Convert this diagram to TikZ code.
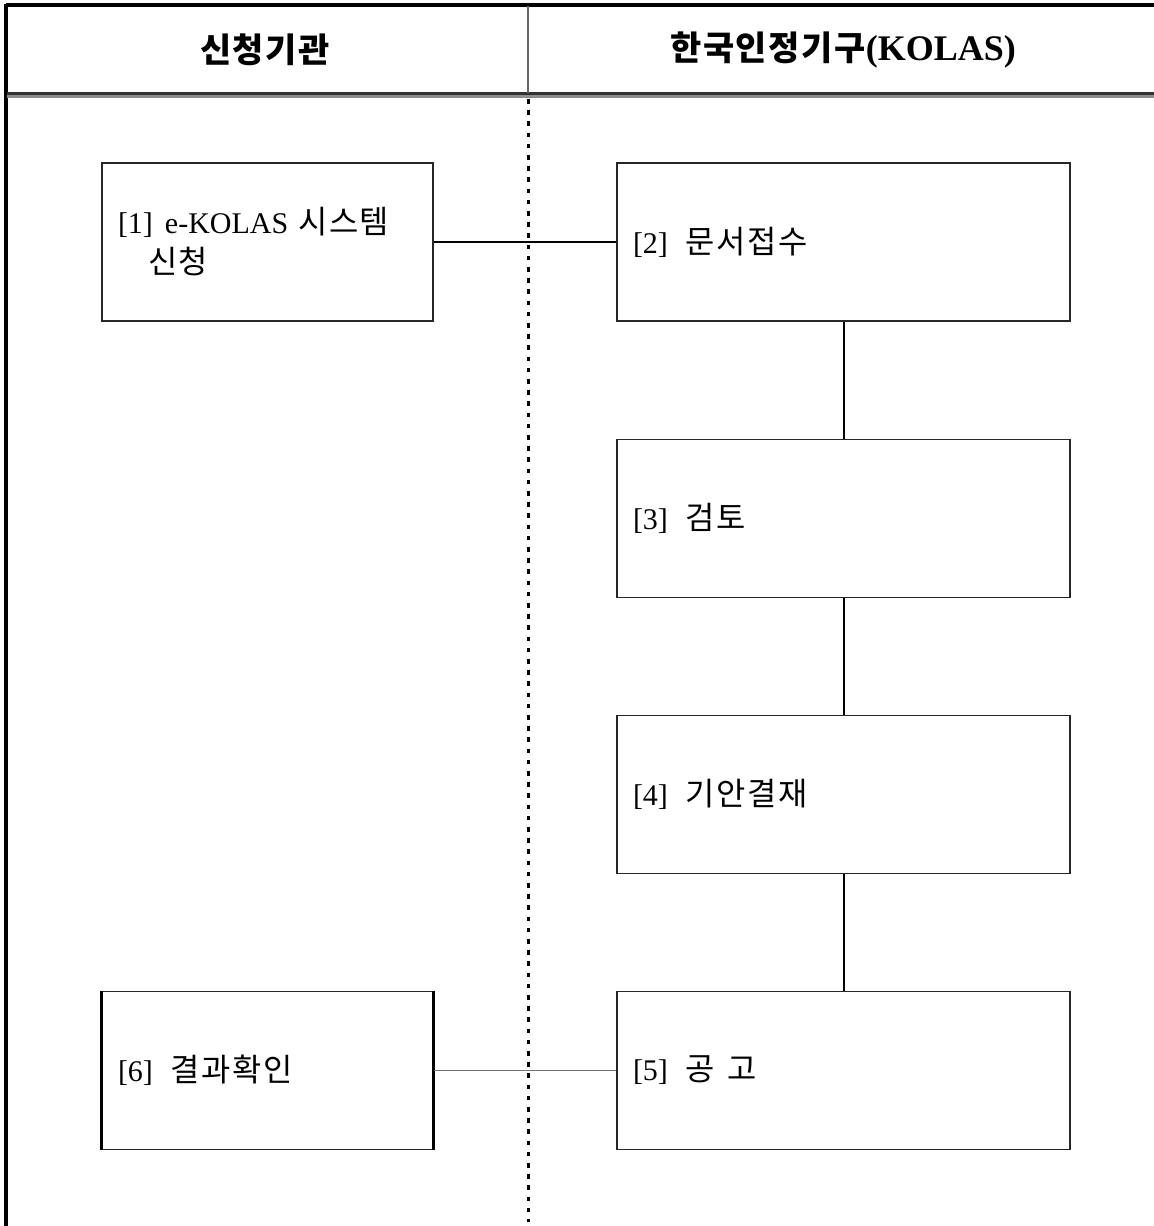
\documentclass[tikz,border=0pt]{standalone}
\usepackage{fontspec}
\usepackage{graphicx}
\setmainfont{Liberation Serif}
\newfontfamily\kr{Noto Sans CJK KR}[Scale=1.06,LetterSpace=5]
\begin{document}
\begin{tikzpicture}[x=0.5pt,y=-0.5pt,
  box/.style={draw=black!85, line width=0.7pt, minimum height=79pt, inner xsep=8pt, inner ysep=0pt, align=left,
    font=\fontsize{15}{20}\selectfont},
  lbox/.style={box, text width=149.5pt},
  rbox/.style={box, text width=210.5pt},
  conn/.style={draw=black, line width=1pt},
  conng/.style={draw=black!55, line width=0.8pt},
  head/.style={inner sep=0pt, font=\bfseries}
]
\useasboundingbox (0,0) rectangle (1154,1226);
% frame
\draw[line width=1.6pt] (6,5) -- (1154,5);
\draw[line width=1.6pt] (6,4) -- (6,1226);
\draw[black!80, line width=1.1pt] (7,93.5) -- (1154,93.5);
\draw[black!45, line width=1.2pt] (7,96.5) -- (1154,96.5);
\draw[black!60, line width=0.6pt] (528,6) -- (528,93);
\draw[line width=1.5pt, dash pattern=on 2.3pt off 3.3pt] (528,99) -- (528,1222);
% headers
\node[head] (h1) at (265,50) {\fontsize{16}{18}\selectfont\kr\bfseries 신청기관};
\node[head] (h2) at (843,50) {\fontsize{16}{18}\selectfont\kr\bfseries 한국인정기구\fontsize{18}{18}\selectfont\rmfamily\bfseries (KOLAS)};
% boxes
\node[lbox] (n1) at (267.5,242) {[1]\hspace{6pt}e-KOLAS\hspace{5pt}{\kr 시스템}\\\hspace*{15pt}{\kr 신청}};
\node[rbox] (n2) at (843.5,242) {[2]\hspace{9pt}{\kr 문서접수}};
\node[rbox] (n3) at (843.5,518.5) {[3]\hspace{9pt}{\kr 검토}};
\node[rbox] (n4) at (843.5,794.5) {[4]\hspace{9pt}{\kr 기안결재}};
\node[rbox] (n5) at (843.5,1070.5) {[5]\hspace{9pt}{\kr 공\hspace{6pt}고}};
\node[lbox] (n6) at (267.5,1070.5) {[6]\hspace{9pt}{\kr 결과확인}};
\draw[line width=1.4pt] (n6.north west) -- (n6.south west);
\draw[line width=1.4pt] (n6.north east) -- (n6.south east);
% connectors
\draw[conn] (n1.east) -- (n2.west);
\draw[conn] (n2.south) -- (n3.north);
\draw[conn] (n3.south) -- (n4.north);
\draw[conn] (n4.south) -- (n5.north);
\draw[conng] (n6.east) -- (n5.west);
\end{tikzpicture}
\end{document}
